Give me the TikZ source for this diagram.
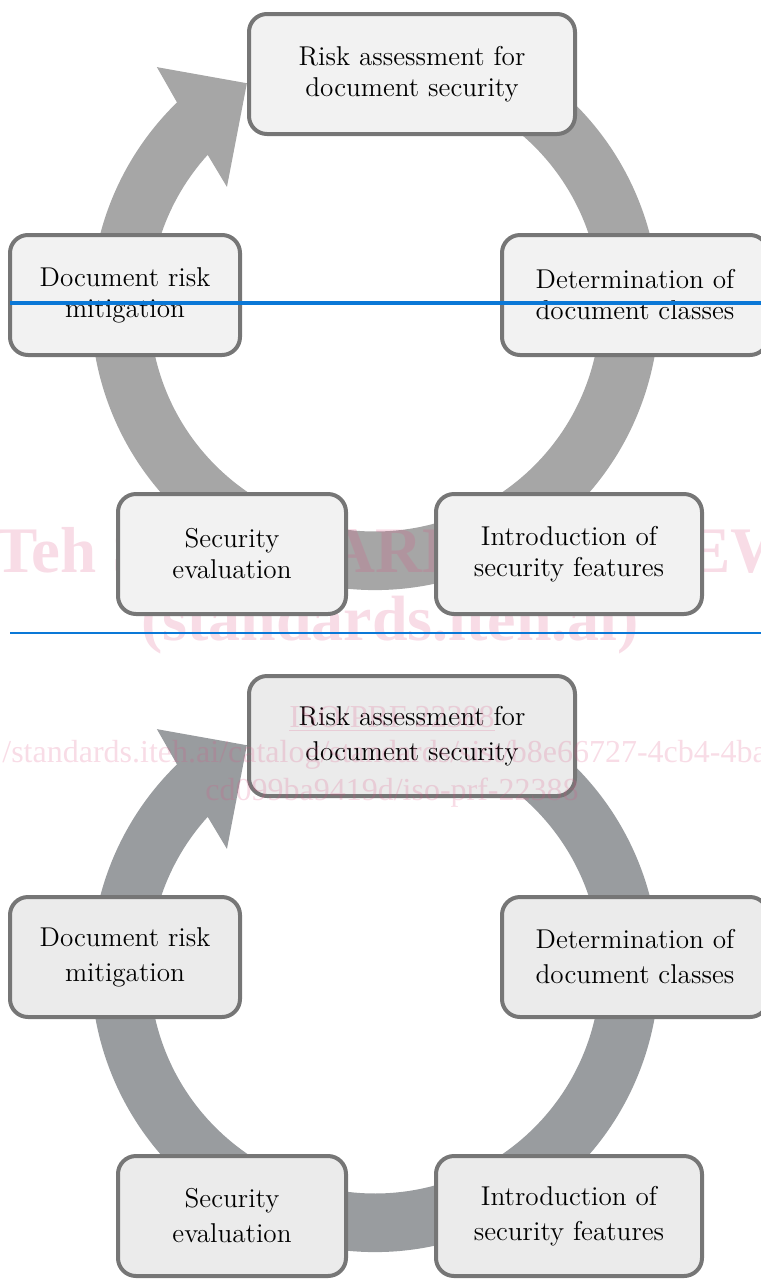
\documentclass[tikz,border=0pt]{standalone}
\usepackage{fontspec}
\newfontfamily\markfont{Liberation Serif}
\usepackage{xcolor}
\definecolor{ringgray}{HTML}{A6A6A6}
\definecolor{ringdark}{HTML}{999C9F}
\definecolor{boxline}{HTML}{767676}
\definecolor{boxfill}{HTML}{F2F2F2}
\definecolor{boxfilldark}{HTML}{EBEBEB}
\definecolor{ruleblue}{HTML}{0A78D7}
\definecolor{markpink}{HTML}{DC5082}

\begin{document}
\begin{tikzpicture}[x=0.5pt,y=-0.5pt]
\tikzstyle{stage}=[draw=boxline, line width=2pt, rounded corners=9pt, align=center, minimum height=60pt, inner sep=2pt]
\tikzstyle{wmark}=[text=markpink, opacity=0.2, inner sep=0pt]
\useasboundingbox (0,0) rectangle (761,1281);

% the two cycle arrows
\foreach \dy/\col in {0/ringgray, 662/ringdark}
  \fill[\col, shift={(375,306+\dy)}] (-70:284) arc[start angle=-70, end angle=225.8, radius=284]
    -- (227.6:323.5) -- (240.1:257) -- (218.8:190) -- (222.1:225.5)
    arc[start angle=222.1, end angle=-70, radius=225.5] -- cycle;

\node[wmark, font=\markfont\bfseries\fontsize{32.5}{32.5}\selectfont, anchor=base] (banner) at (386,572) {iTeh STANDARD PREVIEW};
\node[wmark, font=\markfont\bfseries\fontsize{32}{32}\selectfont, anchor=base] (site) at (390,640) {(standards.iteh.ai)};

% stages
\foreach \dy/\fc/\lsp/\n in {0/boxfill/15.5/a, 662/boxfilldark/17.5/b}{
\begin{scope}[shift={(0,\dy)}, every node/.append style={fill=\fc, font=\fontsize{13.6}{\lsp}\selectfont}]
\node[stage, minimum width=163pt] (risk\n) at (412,74) {Risk assessment for\\document security};
\node[stage, minimum width=133pt] (classes\n) at (635,295) {Determination of\\document classes};
\node[stage, minimum width=133pt] (features\n) at (569,554) {Introduction of\\security features};
\node[stage, minimum width=114pt] (evaluation\n) at (232,554) {Security\\evaluation};
\node[stage, minimum width=115pt] (mitigation\n) at (125,295) {Document risk\\mitigation};
\end{scope}
}

\node[wmark, font=\markfont\fontsize{16}{16}\selectfont, anchor=base] (isoref) at (392,727) {\underline{ISO/PRF 22388}};
\node[wmark, font=\markfont\fontsize{16}{16}\selectfont, anchor=base west] (url) at (2,762) {/standards.iteh.ai/catalog/standards/sist/b8e66727-4cb4-4ba};
\node[wmark, font=\markfont\fontsize{16}{16}\selectfont, anchor=base] (urltail) at (392,800) {cd099ba9419d/iso-prf-22388};

% rules
\draw[ruleblue, line width=2pt] (10,303) -- (761,303);
\draw[ruleblue, line width=1pt] (10,633) -- (761,633);
\end{tikzpicture}
\end{document}
